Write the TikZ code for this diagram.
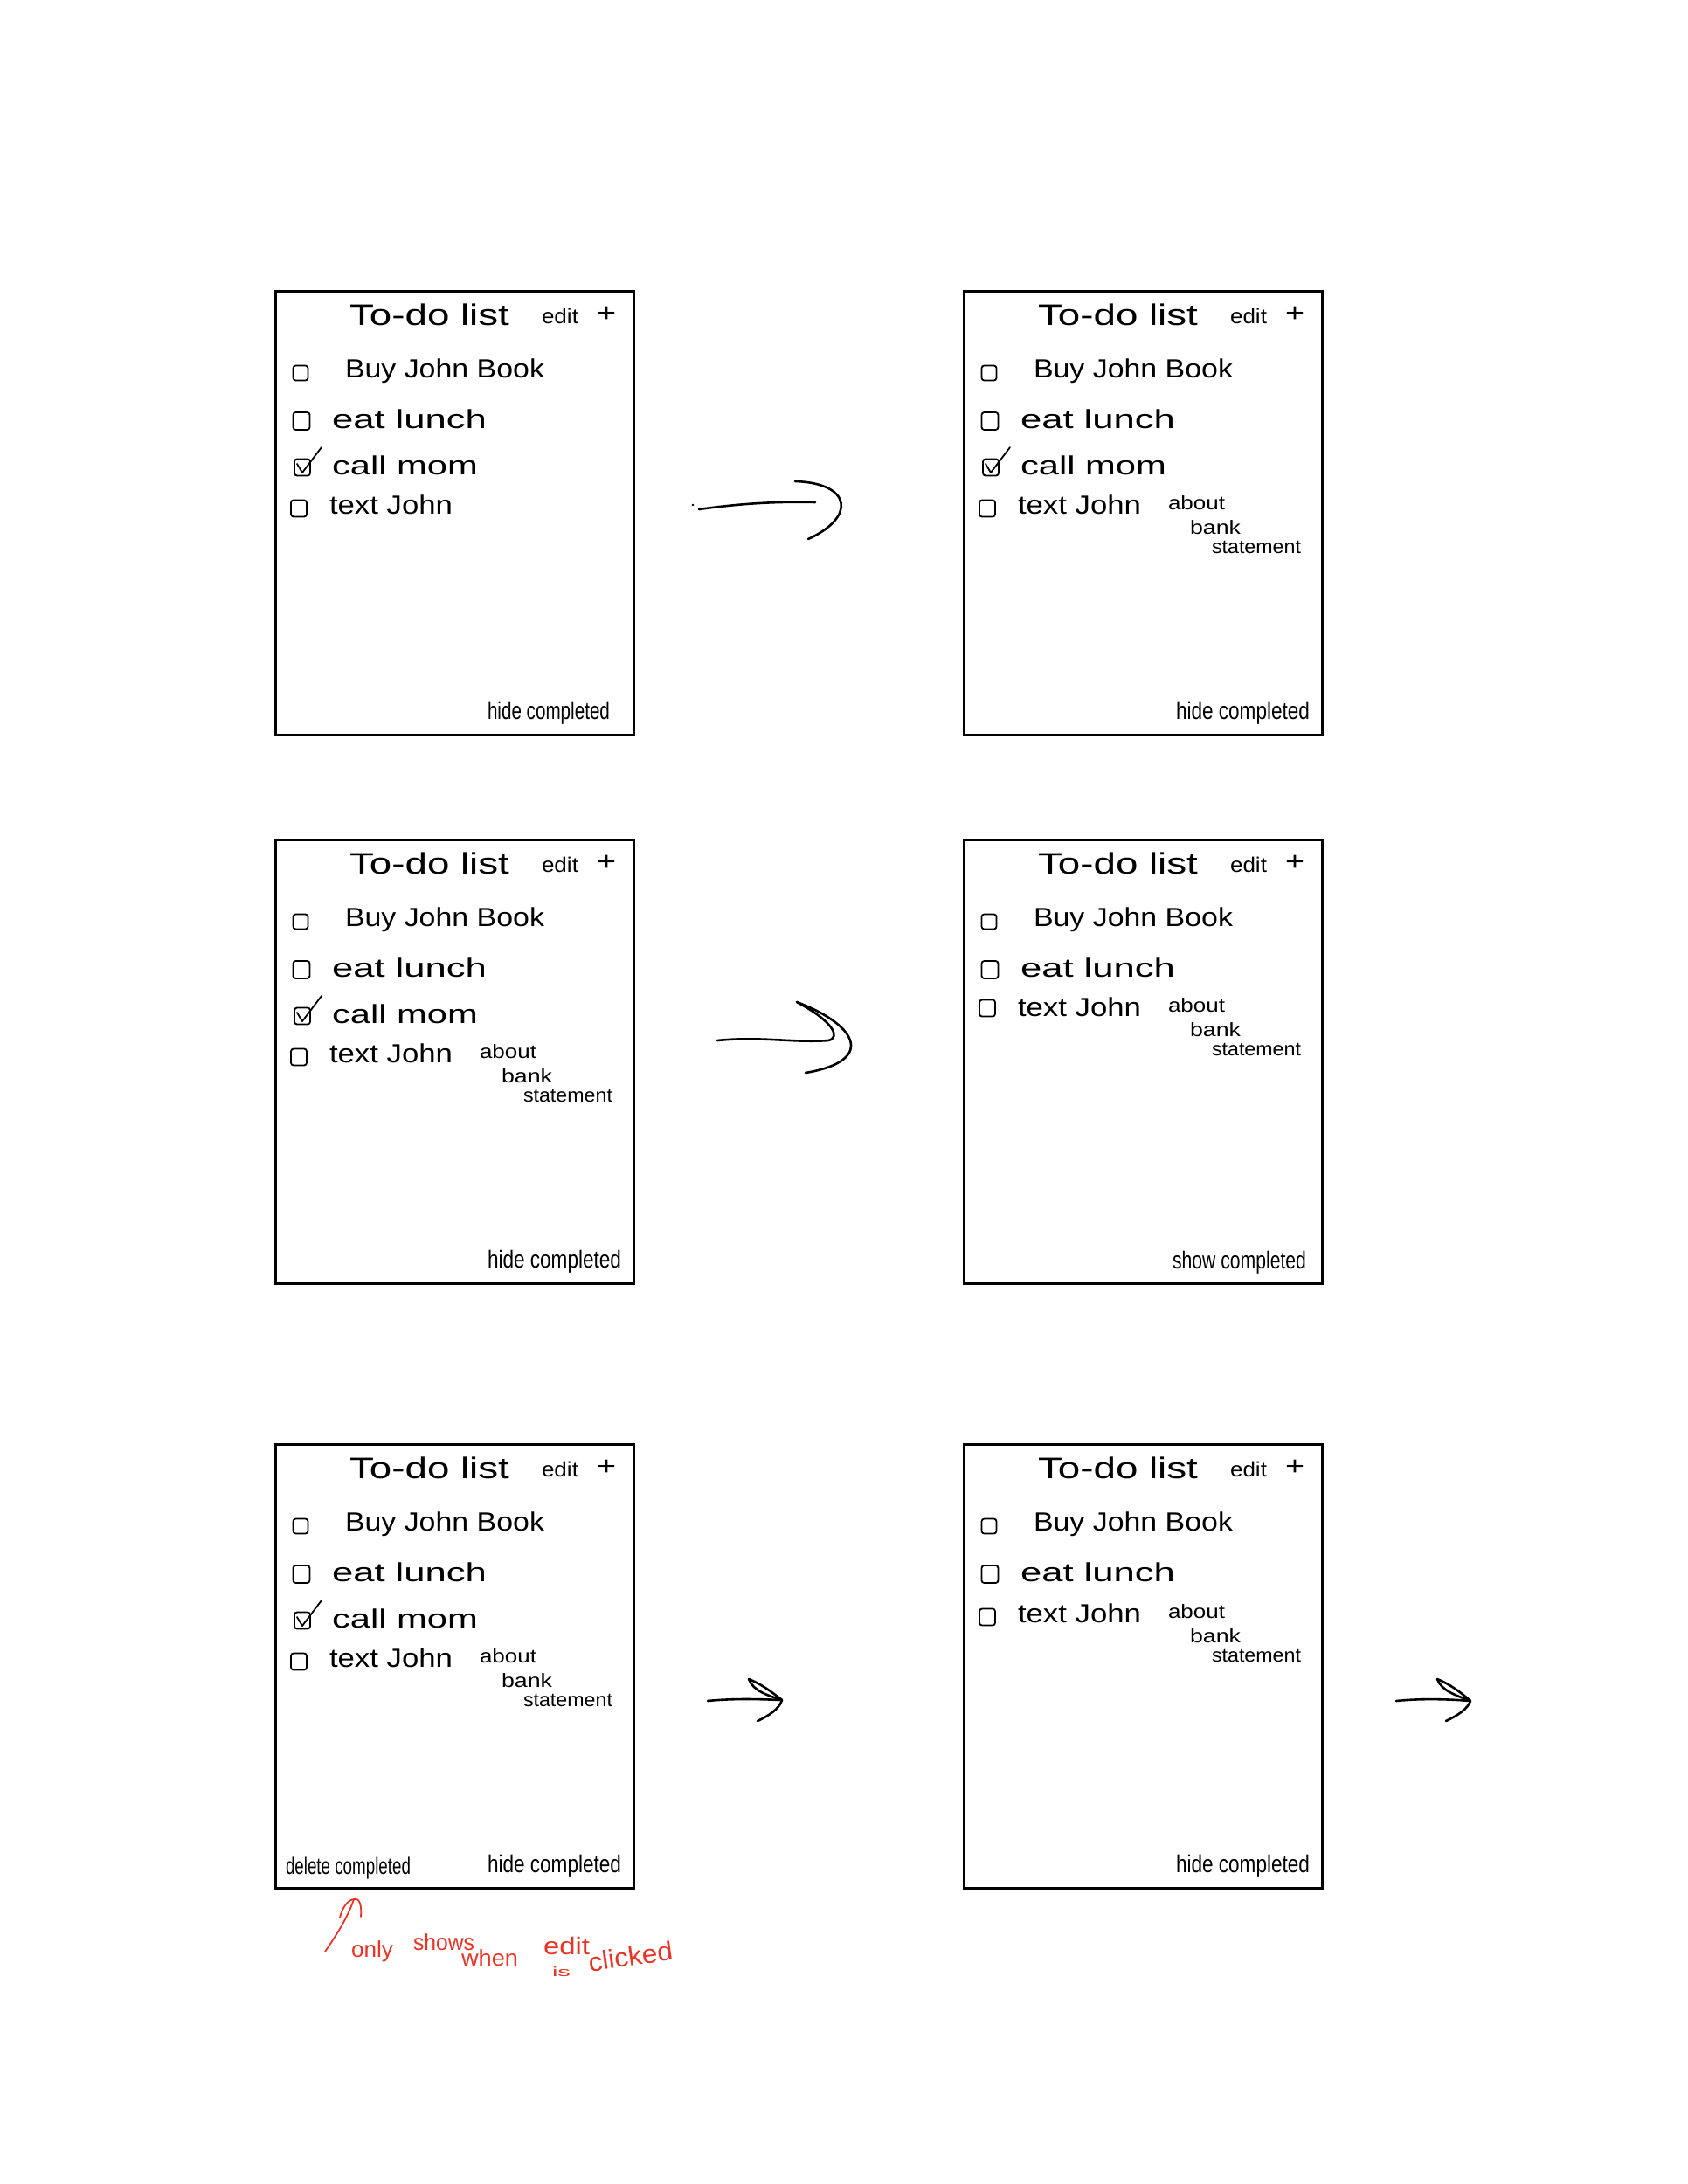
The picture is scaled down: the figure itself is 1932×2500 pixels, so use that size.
\documentclass[tikz,border=0pt]{standalone}
\usepackage{fontspec}
\setmainfont{Liberation Sans}
\usepackage{graphicx}
\definecolor{annred}{RGB}{232,52,38}
\tikzset{
  frame/.style={draw, line width=2.6pt, minimum width=410pt, minimum height=508pt, inner sep=0pt, anchor=north west},
  txt/.style={anchor=base west, inner sep=0pt, outer sep=0pt},
  cbox/.style={draw, line width=1.8pt, rounded corners=3pt, minimum width=18pt, minimum height=19pt, inner sep=0pt},
  stroke/.style={line width=2.6pt, line cap=round, line join=round},
  redstroke/.style={line width=1.8pt, line cap=round, line join=round, draw=annred},
  redtxt/.style={txt, text=annred},
}
\newcommand{\hw}[3]{{\fontsize{#1}{#1}\selectfont\resizebox{#2pt}{\height}{#3}}}
\newcommand{\scrheader}[1]{%
  \node[txt] (#1title) at (86,40) {\hw{34}{183}{To-do list}};
  \node[txt] (#1edit) at (306,38) {\hw{24}{42}{edit}};
  \node[txt] (#1plus) at (369,36) {\hw{30}{22}{+}};}
\newcommand{\rowbuy}[1]{%
  \node[cbox, minimum width=17pt, minimum height=17pt] (#1cba) at (30,95) {};
  \node[txt] (#1ta) at (81,100) {\hw{30}{228}{Buy John Book}};}
\newcommand{\roweat}[1]{%
  \node[cbox, minimum width=19pt, minimum height=20pt] (#1cbb) at (31,150) {};
  \node[txt] (#1tb) at (66,158) {\hw{30}{177}{eat lunch}};}
\newcommand{\rowcall}[1]{%
  \node[cbox] (#1cbc) at (32,203) {};
  \draw[line width=1.8pt, line cap=round, line join=round] (26,199) -- (32,209) -- (54,180);
  \node[txt] (#1tc) at (66,211) {\hw{30}{167}{call mom}};}
\newcommand{\rowtext}[3]{% prefix, baseline, checkbox y
  \node[cbox] (#1cbd) at (28,#3) {};
  \node[txt] (#1td) at (63,#2) {\hw{30}{141}{text John}};}
\newcommand{\rowlong}[2]{% prefix, baseline
  \node[txt] (#1about) at (235,#2-5) {\hw{22}{65}{about}};
  \node[txt] (#1bank) at (260,#2+23) {\hw{22}{58}{bank}};
  \node[txt] (#1stmt) at (285,#2+45) {\hw{22}{102}{statement}};}
\newcommand{\hidecomp}[2]{%
  \node[txt] (#1hide) at (244,491) {\hw{28}{#2}{hide completed}};}
\begin{document}
\begin{tikzpicture}[x=1pt,y=-1pt]
\useasboundingbox (0,0) rectangle (1932,2500);
\fill[white] (0,0) rectangle (1932,2500);

% ---------- screens ----------
\node[frame] (s1) at (314,332) {};
\node[frame] (s2) at (1102,332) {};
\node[frame] (s3) at (314,960) {};
\node[frame] (s4) at (1102,960) {};
\node[frame] (s5) at (314,1652) {};
\node[frame] (s6) at (1102,1652) {};

\begin{scope}[shift={(314,332)}]
  \scrheader{a} \rowbuy{a} \roweat{a} \rowcall{a} \rowtext{a}{256}{250}
  \hidecomp{a}{140}
\end{scope}

\begin{scope}[shift={(1102,332)}]
  \scrheader{b} \rowbuy{b} \roweat{b} \rowcall{b} \rowtext{b}{256}{250} \rowlong{b}{256}
  \hidecomp{b}{153}
\end{scope}

\begin{scope}[shift={(314,960)}]
  \scrheader{c} \rowbuy{c} \roweat{c} \rowcall{c} \rowtext{c}{256}{250} \rowlong{c}{256}
  \hidecomp{c}{153}
\end{scope}

\begin{scope}[shift={(1102,960)}]
  \scrheader{d} \rowbuy{d} \roweat{d} \rowtext{d}{203}{194} \rowlong{d}{203}
  \node[txt] (dshow) at (240,492) {\hw{28}{153}{show completed}};
\end{scope}

\begin{scope}[shift={(314,1652)}]
  \scrheader{e} \rowbuy{e} \roweat{e} \rowcall{e} \rowtext{e}{256}{250} \rowlong{e}{256}
  \node[txt] (edel) at (13,493) {\hw{27}{143}{delete completed}};
  \hidecomp{e}{153}
\end{scope}

\begin{scope}[shift={(1102,1652)}]
  \scrheader{f} \rowbuy{f} \roweat{f} \rowtext{f}{205}{199} \rowlong{f}{205}
  \hidecomp{f}{153}
\end{scope}

% ---------- arrows ----------
% row 1
\coordinate (a1s) at (800,583);
\coordinate (a1e) at (933,575);
\coordinate (a1h1) at (910,551);
\coordinate (a1h2) at (925,617);
\fill (793,578) circle (1.3pt);
\draw[stroke] (a1s) .. controls (850,576) and (890,574) .. (a1e);
\draw[stroke] (a1h1) .. controls (975,553) and (980,592) .. (a1h2);
% row 2
\coordinate (a2s) at (821,1191);
\coordinate (a2m) at (948,1191);
\coordinate (a2h1) at (912,1147);
\coordinate (a2h2) at (922,1228);
\draw[stroke] (a2s) .. controls (870,1186) and (910,1194) .. (a2m)
  .. controls (962,1188) and (955,1170) .. (a2h1);
\draw[stroke] (a2h1) .. controls (985,1175) and (1000,1215) .. (a2h2);
% row 3 left
\coordinate (a3s) at (810,1947);
\coordinate (a3e) at (895,1946);
\coordinate (a3t) at (857,1922);
\coordinate (a3b) at (867,1970);
\draw[stroke] (a3s) .. controls (840,1944) and (870,1945) .. (a3e);
\draw[stroke] (a3t) .. controls (862,1936) and (880,1941) .. (a3e)
  .. controls (892,1956) and (880,1964) .. (a3b);
\draw[stroke] (a3t) .. controls (872,1928) and (885,1938) .. (a3e);
% row 3 right
\coordinate (a4s) at (1598,1947);
\coordinate (a4e) at (1683,1947);
\coordinate (a4t) at (1645,1922);
\coordinate (a4b) at (1655,1970);
\draw[stroke] (a4s) .. controls (1628,1944) and (1658,1945) .. (a4e);
\draw[stroke] (a4t) .. controls (1650,1936) and (1668,1941) .. (a4e)
  .. controls (1680,1956) and (1668,1964) .. (a4b);
\draw[stroke] (a4t) .. controls (1660,1928) and (1673,1938) .. (a4e);

% ---------- red annotation ----------
\coordinate (r0) at (372,2234);
\coordinate (rtip) at (405,2174);
\draw[redstroke] (r0) .. controls (385,2215) and (398,2195) .. (rtip);
\draw[redstroke] (389,2195) .. controls (392,2183) and (398,2175) .. (rtip)
  .. controls (412,2172) and (414,2182) .. (413,2194);
\node[redtxt] (ronly) at (402,2240) {\hw{26}{48}{only}};
\node[redtxt] (rshows) at (473,2232) {\hw{26}{70}{shows}};
\node[redtxt] (rwhen) at (528,2250) {\hw{26}{65}{when}};
\node[redtxt] (redit) at (622,2237) {\hw{28}{53}{edit}};
\node[redtxt] (ris) at (632,2262) {\hw{15}{21}{is}};
\node[redtxt, rotate=8] (rclicked) at (675,2257) {\hw{30}{97}{clicked}};
\end{tikzpicture}
\end{document}
